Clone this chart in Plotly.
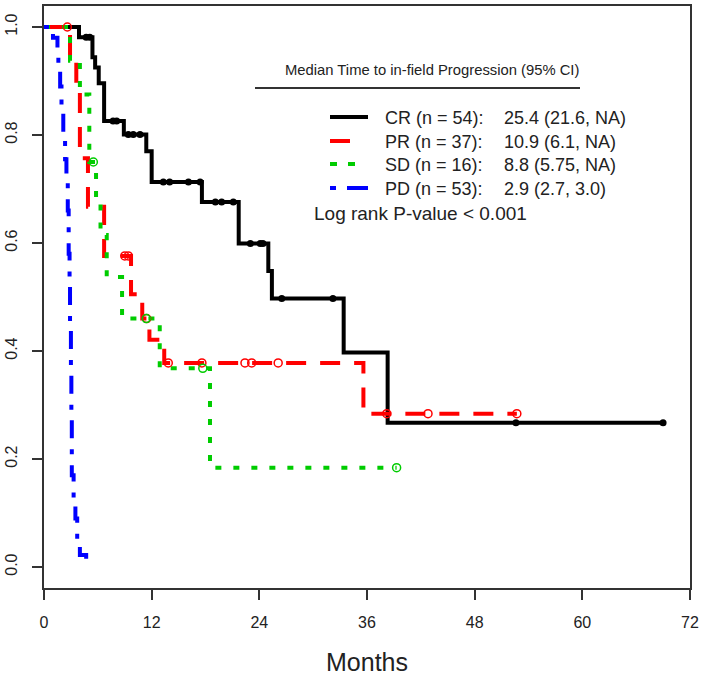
import plotly.graph_objects as go

# ---------------- data ----------------
months_ticks = [0, 12, 24, 36, 48, 60, 72]
surv_ticks = [0.0, 0.2, 0.4, 0.6, 0.8, 1.0]
surv_tick_text = ["0.0", "0.2", "0.4", "0.6", "0.8", "1.0"]

# CR (complete response)
cr_time = [0, 3.9, 5.4, 5.7, 6.1, 6.7, 8.9, 11.4, 12.0, 17.6, 21.7, 25.0, 25.4, 33.4, 38.3, 69.0]
cr_surv = [1.0, 0.981, 0.944, 0.925, 0.896, 0.826, 0.801, 0.77, 0.713, 0.676, 0.599, 0.548, 0.497, 0.397, 0.267, 0.267]
cr_cens = [4.7, 5.1, 7.7, 8.1, 9.4, 9.95, 10.7, 13.3, 14.0, 16.1, 17.4, 19.1, 19.8, 21.1,
           23.0, 24.1, 24.4, 26.5, 32.2, 52.6, 69.0]

# PR (partial response)
pr_time = [0, 2.9, 3.6, 4.0, 4.9, 6.7, 9.7, 10.95, 11.75, 13.4, 35.6, 52.7]
pr_surv = [1.0, 0.946, 0.892, 0.757, 0.667, 0.576, 0.505, 0.46, 0.421, 0.378, 0.284, 0.284]
pr_cens = [2.6, 9.0, 9.4, 11.45, 13.85, 17.6, 22.4, 23.15, 26.1, 38.2, 42.8, 52.7]

# SD (stable disease)
sd_time = [0, 2.9, 4.0, 5.05, 5.8, 6.3, 6.99, 8.7, 12.9, 18.5, 39.3]
sd_surv = [1.0, 0.9375, 0.875, 0.75, 0.685, 0.615, 0.537, 0.46, 0.368, 0.184, 0.184]
sd_cens = [5.5, 11.4, 17.7, 39.3]

# PD (progressive disease)
pd_time = [0, 1.0, 1.5, 1.6, 1.8, 1.95, 2.15, 2.35, 2.5, 2.65, 2.75, 2.85, 2.9, 3.0, 3.05,
           3.1, 3.3, 3.5, 3.7, 4.0, 4.7]
pd_surv = [1.0, 0.98, 0.96, 0.925, 0.89, 0.84, 0.80, 0.755, 0.715, 0.66, 0.58, 0.52, 0.45,
           0.36, 0.28, 0.17, 0.125, 0.09, 0.05, 0.022, 0.0]
pd_cens = []

group_labels = ["CR (n = 54):", "PR (n = 37):", "SD (n = 16):", "PD (n = 53):"]
group_medians = ["25.4 (21.6, NA)", "10.9 (6.1, NA)", "8.8 (5.75, NA)", "2.9 (2.7, 3.0)"]
legend_title = "Median Time to in-field Progression (95% CI)"
pvalue_text = "Log rank P-value < 0.001"
x_title = "Months"

# ---------------- styling ----------------
FONT = "Liberation Sans, Arial, sans-serif"
TXT = "#222222"
AX = "#333333"
W, H = 708, 679
L, R, T, B = 44, 18, 6, 91
PW, PH = W - L - R, H - T - B

colors = ["#000000", "#ff0000", "#00cc00", "#0000ff"]
dashes = ["solid", "20px,14px", "6px,12px", "5px,11px,18px,11px"]
legend_dashes = ["solid", "20px,40px", "7px,11px,7px,40px", "6px,11px,21px,40px"]


def px_x(px):
    return (px - L) / PW


def px_y(py):
    return (H - B - py) / PH


def step_at(t, times, surv):
    val = surv[0]
    for tt, ss in zip(times, surv):
        if tt <= t:
            val = ss
    return val


series = [
    (cr_time, cr_surv, cr_cens),
    (pr_time, pr_surv, pr_cens),
    (sd_time, sd_surv, sd_cens),
    (pd_time, pd_surv, pd_cens),
]

fig = go.Figure()
for i, (tt, ss, cc) in enumerate(series):
    fig.add_trace(go.Scatter(
        x=tt, y=ss, mode="lines", line_shape="hv",
        line=dict(color=colors[i], width=4, dash=dashes[i]),
        name=group_labels[i], showlegend=False, hoverinfo="skip"))
for i, (tt, ss, cc) in enumerate(series):
    if not cc:
        continue
    if i == 0:
        marker = dict(symbol="circle", size=7, color=colors[i])
    else:
        marker = dict(symbol="circle-open", size=8, color=colors[i],
                      line=dict(width=1.5, color=colors[i]))
    fig.add_trace(go.Scatter(
        x=cc, y=[step_at(c, tt, ss) for c in cc], mode="markers",
        marker=marker, showlegend=False, hoverinfo="skip"))

shapes = []
annotations = []
# legend header with underline
annotations.append(dict(x=px_x(283), y=px_y(70), xref="paper", yref="paper",
                        text=legend_title, showarrow=False, xanchor="left", yanchor="middle",
                        font=dict(family=FONT, size=14.8, color=TXT)))
shapes.append(dict(type="line", xref="paper", yref="paper",
                   x0=px_x(255), x1=px_x(580), y0=px_y(88), y1=px_y(88),
                   line=dict(color=AX, width=2)))
row_y = [117, 141, 164, 188]
for i in range(4):
    shapes.append(dict(type="line", xref="paper", yref="paper",
                       x0=px_x(330), x1=px_x(368), y0=px_y(row_y[i]), y1=px_y(row_y[i]),
                       line=dict(color=colors[i], width=4, dash=legend_dashes[i])))
    annotations.append(dict(x=px_x(383), y=px_y(row_y[i] + 1), xref="paper", yref="paper",
                            text=group_labels[i], showarrow=False, xanchor="left",
                            yanchor="middle", font=dict(family=FONT, size=18, color=TXT)))
    annotations.append(dict(x=px_x(502), y=px_y(row_y[i] + 1), xref="paper", yref="paper",
                            text=group_medians[i], showarrow=False, xanchor="left",
                            yanchor="middle", font=dict(family=FONT, size=18, color=TXT)))
annotations.append(dict(x=px_x(312), y=px_y(214), xref="paper", yref="paper",
                        text=pvalue_text, showarrow=False, xanchor="left", yanchor="middle",
                        font=dict(family=FONT, size=19, color=TXT)))

axis_common = dict(showline=True, linecolor=AX, linewidth=1.5, mirror=True,
                   showgrid=False, zeroline=False, ticks="outside", ticklen=10,
                   tickwidth=1.5, tickcolor=AX, automargin=False,
                   tickfont=dict(family=FONT, size=16, color=TXT))

fig.update_layout(
    width=W, height=H,
    margin=dict(l=L, r=R, t=T, b=B),
    paper_bgcolor="white", plot_bgcolor="white",
    showlegend=False,
    shapes=shapes, annotations=annotations,
    xaxis=dict(range=[0, 72], tickvals=months_ticks, ticklabelstandoff=9,
               title=dict(text=x_title, font=dict(family=FONT, size=25, color=TXT), standoff=24),
               **axis_common),
    yaxis=dict(range=[-0.0389, 1.0389], tickvals=surv_ticks, ticktext=surv_tick_text,
               tickangle=-90, ticklabelstandoff=9, **axis_common),
)

fig.write_html("out.html",
               config={"displayModeBar": False},
               post_script="document.body.style.margin='0px';document.body.style.overflow='hidden';")
